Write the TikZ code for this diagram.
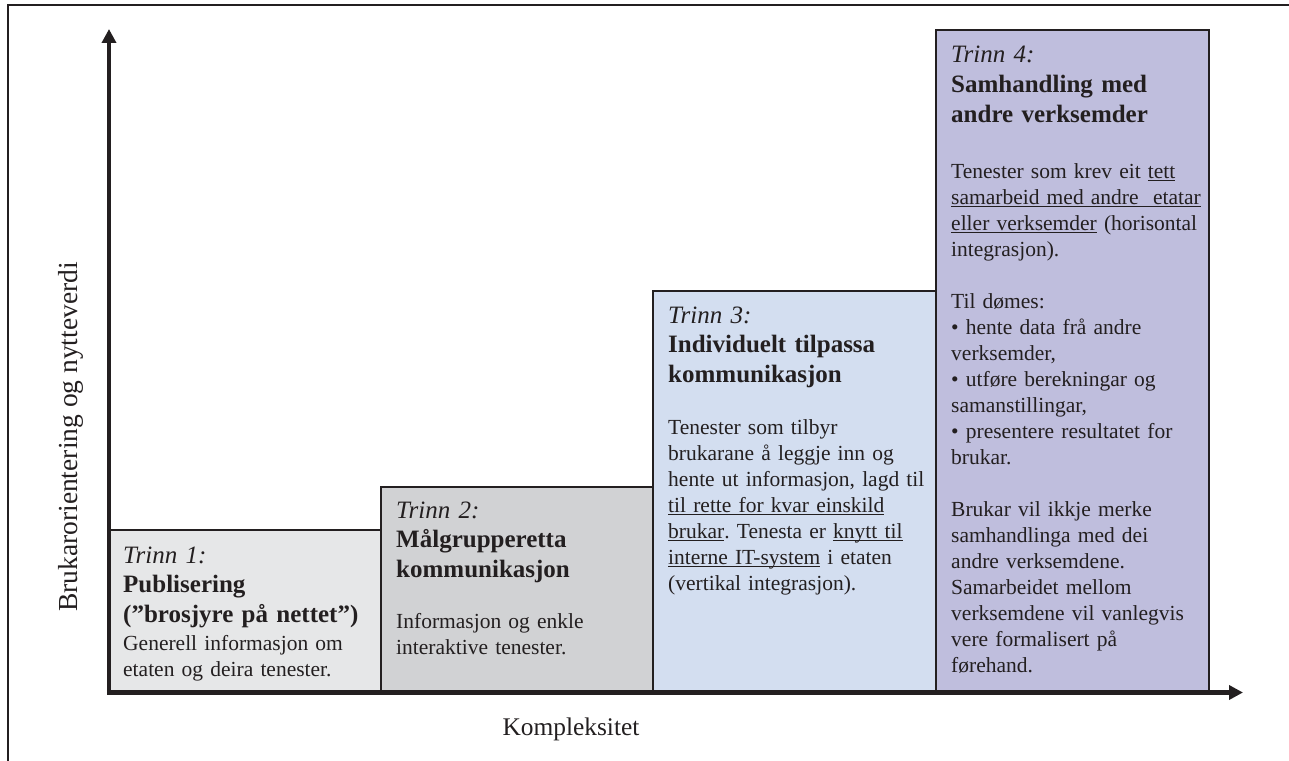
\documentclass[tikz,border=0pt]{standalone}
\usepackage{fontspec}
\setmainfont{Liberation Serif}
\usetikzlibrary{arrows.meta}
\definecolor{inkgray}{HTML}{231F20}
\definecolor{fillone}{HTML}{E6E7E8}
\definecolor{filltwo}{HTML}{D1D2D4}
\definecolor{fillthree}{HTML}{D3DEF0}
\definecolor{fillfour}{HTML}{BFBEDD}
\newcommand{\markline}[1]{\leavevmode\setbox0=\hbox{#1}\rlap{\rule[-3.3pt]{\wd0}{0.9pt}}\box0\relax}
\frenchspacing
\begin{document}
\begin{tikzpicture}[x=1pt,y=-1pt,
    stagebox/.style={draw=inkgray, line width=1.8pt},
    axisline/.style={draw=inkgray, line width=4.5pt, -{Triangle[length=14pt,width=14pt]}},
    headtext/.style={anchor=base west, inner sep=0pt, align=left, text width=272pt,
        text=inkgray, font=\fontsize{25}{29.5}\selectfont},
    bodytext/.style={anchor=base west, inner sep=0pt, align=left, text width=272pt,
        text=inkgray, font=\fontsize{21.5}{26}\selectfont}]
    \useasboundingbox (0,0) rectangle (1289,760);

    % outer frame (left and top only)
    \draw[line width=2pt,inkgray] (8,770) -- (8,5.5) -- (1300,5.5);

    % corners of the stages
    \coordinate (o)  at (109,692.5);
    \coordinate (s1) at (109,530);
    \coordinate (s2) at (381,487);
    \coordinate (s3) at (653,291);
    \coordinate (s4) at (936,30);
    \coordinate (s5) at (1209,692.5);

    \draw[stagebox,fill=fillone]   (s1) rectangle (s2 |- o);
    \draw[stagebox,fill=filltwo]   (s2) rectangle (s3 |- o);
    \draw[stagebox,fill=fillthree] (s3) rectangle (s4 |- o);
    \draw[stagebox,fill=fillfour]  (s4) rectangle (s5);

    % axes
    \coordinate (ytip) at (109,29);
    \coordinate (xtip) at (1243,692.5);
    \draw[axisline] (o) -- (ytip);
    \draw[axisline] ([xshift=-2.25pt]o) -- (xtip);

    \node[anchor=base, rotate=90, inner sep=0pt, text=inkgray,
          font=\fontsize{27.5}{30}\selectfont] (ylabel) at (77,437)
          {Brukarorientering og nytteverdi};
    \node[anchor=base, inner sep=0pt, text=inkgray,
          font=\fontsize{25.4}{30}\selectfont] (xlabel) at (571,735) {Kompleksitet};

    % Trinn 1
    \node[headtext] (head1) at (123,563)
        {\itshape Trinn 1:\\ \bfseries\upshape Publisering\\ (”brosjyre på nettet”)};
    \node[bodytext] (body1) at (123,650)
        {Generell informasjon om\\ etaten og deira tenester.};

    % Trinn 2
    \node[headtext] (head2) at (396,518)
        {\itshape Trinn 2:\\ \bfseries\upshape Målgrupperetta\\ kommunikasjon};
    \node[bodytext] (body2) at (396,628)
        {Informasjon og enkle\\ interaktive tenester.};

    % Trinn 3
    \node[headtext] (head3) at (668,323)
        {\itshape Trinn 3:\\ \bfseries\upshape Individuelt tilpassa\\ kommunikasjon};
    \node[bodytext] (body3) at (668,434)
        {Tenester som tilbyr\\ brukarane å leggje inn og\\ hente ut informasjon, lagd til\\
         \markline{til rette for kvar einskild}\\ \markline{brukar}. Tenesta er \markline{knytt til}\\
         \markline{interne IT-system} i etaten\\ (vertikal integrasjon).};

    % Trinn 4
    \node[headtext] (head4) at (951,63)
        {\itshape Trinn 4:\\ \bfseries\upshape Samhandling med\\ andre verksemder};
    \node[bodytext] (body4) at (951,178)
        {Tenester som krev eit \markline{tett}\\ \markline{samarbeid med andre\ \ etatar}\\
         \markline{eller verksemder} (horisontal\\ integrasjon).\\[26pt]
         Til dømes:\\ • hente data frå andre\\ verksemder,\\ • utføre berekningar og\\
         samanstillingar,\\ • presentere resultatet for\\ brukar.\\[26pt]
         Brukar vil ikkje merke\\ samhandlinga med dei\\ andre verksemdene.\\
         Samarbeidet mellom\\ verksemdene vil vanlegvis\\ vere formalisert på\\ førehand.};
\end{tikzpicture}
\end{document}
